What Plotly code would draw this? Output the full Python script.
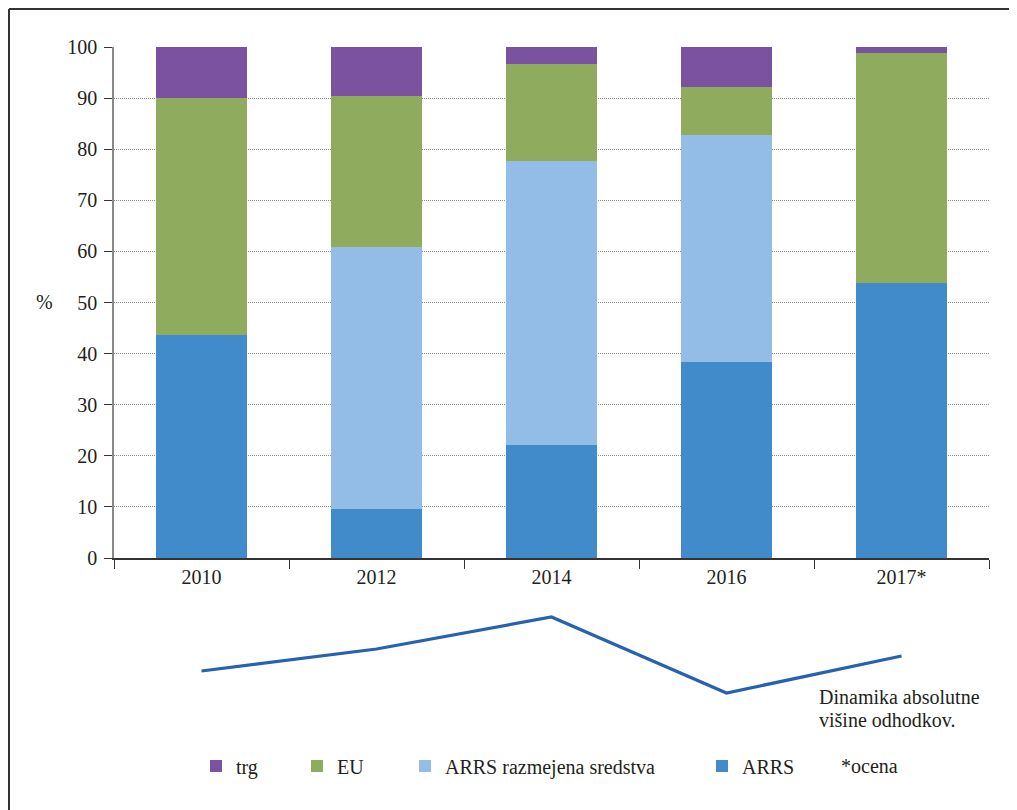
import plotly.graph_objects as go

years = ["2010", "2012", "2014", "2016", "2017*"]
arrs = [43.6, 9.6, 22.1, 38.4, 53.8]
arrs_razm = [0.0, 51.3, 55.6, 44.4, 0.0]
eu = [46.4, 29.5, 19.0, 9.4, 45.0]
trg = [10.0, 9.6, 3.3, 7.8, 1.2]
dinamika = [29, 51, 83, 7, 44]

y_ticks = [0, 10, 20, 30, 40, 50, 60, 70, 80, 90, 100]

W, H = 1017, 810
OFF = 8  # page body margin
FONT = "Liberation Serif"
TXT = "#231f20"
FS = 20

def px_x(p):
    return (p - OFF) / W

def px_y(p):
    return 1 - (p - OFF) / H

fig = go.Figure()
series = [
    ("ARRS", arrs, "#428bca", "legend4"),
    ("ARRS razmejena sredstva", arrs_razm, "#93bce6", "legend3"),
    ("EU", eu, "#8eab5e", "legend2"),
    ("trg", trg, "#7b529f", "legend"),
]
for name, vals, col, lg in series:
    fig.add_trace(go.Bar(x=years, y=vals, name=name, marker=dict(color=col, line=dict(width=0)),
                         width=0.52, xaxis="x", yaxis="y", legend=lg))

fig.add_trace(go.Scatter(x=years, y=dinamika, mode="lines", line=dict(color="#2762b0", width=3.2),
                         showlegend=False, xaxis="x2", yaxis="y2", hoverinfo="skip"))

def leg(xpx):
    return dict(orientation="h", x=px_x(xpx), y=px_y(766), xanchor="left", yanchor="middle",
                font=dict(size=FS, family=FONT, color=TXT), itemwidth=30,
                bgcolor="rgba(0,0,0,0)", borderwidth=0)

def txt(text, x, y, xanchor="left"):
    return dict(text=text, x=px_x(x), y=px_y(y), xref="paper", yref="paper", xanchor=xanchor,
                yanchor="middle", showarrow=False, font=dict(size=FS, family=FONT, color=TXT))

fig.update_layout(
    width=W, height=H,
    margin=dict(l=0, r=0, t=0, b=0, autoexpand=False),
    paper_bgcolor="white", plot_bgcolor="white",
    barmode="stack",
    font=dict(family=FONT, size=FS, color=TXT),
    xaxis=dict(domain=[px_x(114), px_x(989)], type="category", showgrid=False, automargin=False,
               showline=True, linecolor="#333333", linewidth=1.5,
               ticks="outside", ticklen=9, tickcolor="#333333", tickson="boundaries",
               tickfont=dict(size=FS, family=FONT, color=TXT), fixedrange=True),
    yaxis=dict(domain=[px_y(558), px_y(47)], range=[0, 100], tickvals=y_ticks, automargin=False,
               showgrid=True, gridcolor="#8c8c8c", griddash="1px,1px", gridwidth=1,
               showline=True, linecolor="#888888", linewidth=1.5,
               ticks="outside", ticklen=8, tickcolor="#333333", ticklabelstandoff=3,
               tickfont=dict(size=FS, family=FONT, color=TXT), zeroline=False, fixedrange=True),
    xaxis2=dict(domain=[px_x(114), px_x(989)], type="category", range=[-0.5, 4.5],
                visible=False, anchor="y2", automargin=False),
    yaxis2=dict(domain=[px_y(700), px_y(600)], range=[0, 100], visible=False, anchor="x2",
                automargin=False),
    legend=leg(196),
    legend2=leg(297),
    legend3=leg(405),
    legend4=leg(702),
    annotations=[
        txt("%", 44, 302, xanchor="center"),
        txt("Dinamika absolutne", 817, 697),
        txt("višine odhodkov.", 817, 720),
        txt("*ocena", 839, 766),
    ],
    shapes=[
        dict(type="line", xref="paper", yref="paper", x0=px_x(9), x1=1.01, y0=px_y(9), y1=px_y(9),
             line=dict(color="#333333", width=2)),
        dict(type="line", xref="paper", yref="paper", x0=px_x(9), x1=px_x(9), y0=px_y(9), y1=-0.01,
             line=dict(color="#333333", width=2)),
    ],
)

fig.write_html("out.html")
